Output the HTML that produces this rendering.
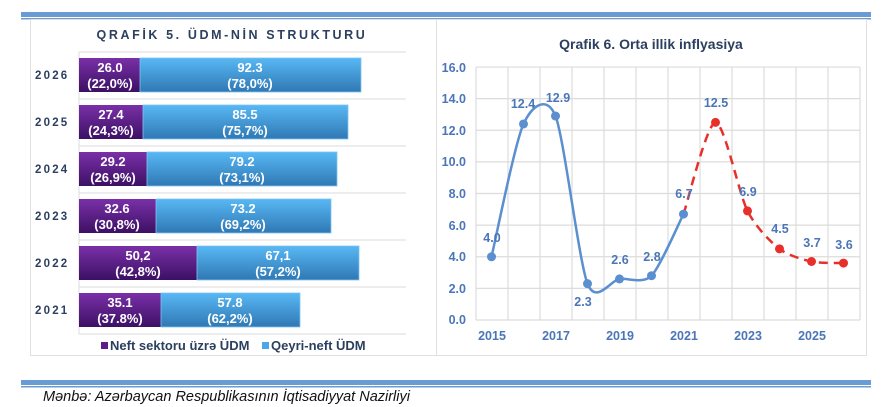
<!DOCTYPE html>
<html><head><meta charset="utf-8"><style>
body{margin:0;width:883px;height:407px;background:#fff;overflow:hidden;font-family:"Liberation Sans",sans-serif;}
svg{position:absolute;left:0;top:0}
</style></head><body>
<svg width="883" height="407" viewBox="0 0 883 407" xmlns="http://www.w3.org/2000/svg">
<defs>
<linearGradient id="pu" x1="0" y1="0" x2="0" y2="1"><stop offset="0" stop-color="#7a30a8"/><stop offset="1" stop-color="#3c1064"/></linearGradient>
<linearGradient id="bl" x1="0" y1="0" x2="0" y2="1"><stop offset="0" stop-color="#58b8f4"/><stop offset="1" stop-color="#2f78b4"/></linearGradient>
</defs>
<rect x="21" y="12" width="850" height="5" fill="#6a9bd2"/>
<rect x="21" y="18" width="850" height="1.5" fill="#6a9bd2"/>
<rect x="30.5" y="19.5" width="406" height="336" fill="#fff" stroke="#e0e0e0"/>
<text x="232" y="39" text-anchor="middle" font-size="12.5" font-weight="bold" fill="#2b3f5e" letter-spacing="2.6">QRAFİK 5. ÜDM-NİN STRUKTURU</text>
<g stroke="#e2e2e2" stroke-width="1.2">
<line x1="79" y1="52" x2="406" y2="52"/><line x1="79" y1="99" x2="406" y2="99"/><line x1="79" y1="146" x2="406" y2="146"/><line x1="79" y1="193" x2="406" y2="193"/><line x1="79" y1="240" x2="406" y2="240"/><line x1="79" y1="287" x2="406" y2="287"/><line x1="79" y1="334" x2="406" y2="334"/>
<line x1="79" y1="52" x2="79" y2="334"/>
</g>
<g font-size="11.5" font-weight="bold" fill="#2b3f5e" letter-spacing="2.2">
<text x="35" y="79">2026</text><text x="35" y="126">2025</text><text x="35" y="173">2024</text><text x="35" y="220">2023</text><text x="35" y="267">2022</text><text x="35" y="314">2021</text>
</g>
<g stroke="#7fc4f2" stroke-width="0.8">
<rect x="79" y="58" width="61" height="34" fill="url(#pu)" stroke="none"/><rect x="140" y="58" width="221" height="34" fill="url(#bl)"/>
<rect x="79" y="105" width="64" height="34" fill="url(#pu)" stroke="none"/><rect x="143" y="105" width="205" height="34" fill="url(#bl)"/>
<rect x="79" y="152" width="68" height="34" fill="url(#pu)" stroke="none"/><rect x="147" y="152" width="190" height="34" fill="url(#bl)"/>
<rect x="79" y="199" width="77" height="34" fill="url(#pu)" stroke="none"/><rect x="156" y="199" width="175" height="34" fill="url(#bl)"/>
<rect x="79" y="246" width="118" height="34" fill="url(#pu)" stroke="none"/><rect x="197" y="246" width="162" height="34" fill="url(#bl)"/>
<rect x="79" y="293" width="82" height="34" fill="url(#pu)" stroke="none"/><rect x="161" y="293" width="139" height="34" fill="url(#bl)"/>
</g>
<g font-size="13" font-weight="bold" fill="#fff" text-anchor="middle">
<text x="110" y="72">26.0</text><text x="110" y="88">(22,0%)</text><text x="250" y="72">92.3</text><text x="250" y="88">(78,0%)</text>
<text x="111" y="119">27.4</text><text x="111" y="135">(24,3%)</text><text x="245" y="119">85.5</text><text x="245" y="135">(75,7%)</text>
<text x="113" y="166">29.2</text><text x="113" y="182">(26,9%)</text><text x="242" y="166">79.2</text><text x="242" y="182">(73,1%)</text>
<text x="117" y="213">32.6</text><text x="117" y="229">(30,8%)</text><text x="243" y="213">73.2</text><text x="243" y="229">(69,2%)</text>
<text x="138" y="260">50,2</text><text x="138" y="276">(42,8%)</text><text x="278" y="260">67,1</text><text x="278" y="276">(57,2%)</text>
<text x="120" y="307">35.1</text><text x="120" y="323">(37.8%)</text><text x="230" y="307">57.8</text><text x="230" y="323">(62,2%)</text>
</g>
<rect x="101" y="342" width="7" height="7" fill="#5a2088"/>
<text x="110" y="350" font-size="13" font-weight="bold" fill="#2b3f5e">Neft sektoru üzrə ÜDM</text>
<rect x="262" y="342" width="7" height="7" fill="#49a8e8"/>
<text x="271" y="350" font-size="13" font-weight="bold" fill="#2b3f5e">Qeyri-neft ÜDM</text>
<rect x="436.5" y="19.5" width="430" height="336" fill="#fff" stroke="#e0e0e0"/>
<text x="651" y="49" text-anchor="middle" font-size="14" font-weight="bold" fill="#2b3f5e">Qrafik 6. Orta illik inflyasiya</text>
<g id="grid" stroke="#dcdcdc" stroke-width="1.2"></g>
<g font-size="12.5" font-weight="bold" fill="#4a76b8" text-anchor="end">
<text x="466" y="72">16.0</text><text x="466" y="103">14.0</text><text x="466" y="135">12.0</text><text x="466" y="166">10.0</text><text x="466" y="198">8.0</text><text x="466" y="230">6.0</text><text x="466" y="261">4.0</text><text x="466" y="293">2.0</text><text x="466" y="324">0.0</text>
</g>
<g font-size="12.5" font-weight="bold" fill="#4a76b8" text-anchor="middle">
<text x="492" y="340">2015</text><text x="556" y="340">2017</text><text x="620" y="340">2019</text><text x="684" y="340">2021</text><text x="748" y="340">2023</text><text x="812" y="340">2025</text>
</g>
<path id="blue" fill="none" stroke="#5b8fd0" stroke-width="2.5"/>
<path id="red" fill="none" stroke="#e8302a" stroke-width="2.5" stroke-dasharray="9,6"/>
<g id="dots"></g>
<g font-size="12.5" font-weight="bold" fill="#4a76b8" text-anchor="middle">
<text x="492" y="242">4.0</text><text x="523" y="108">12.4</text><text x="558" y="102">12.9</text><text x="583" y="306">2.3</text>
<text x="620" y="264">2.6</text><text x="652" y="261">2.8</text><text x="684" y="198">6.7</text><text x="716" y="107">12.5</text>
<text x="748" y="196">6.9</text><text x="780" y="233">4.5</text><text x="812" y="247">3.7</text><text x="844" y="249">3.6</text>
</g>
<rect x="21" y="380" width="850" height="5" fill="#6a9bd2"/>
<rect x="21" y="386" width="850" height="1.5" fill="#6a9bd2"/>
<text x="43" y="401" font-size="14.5" font-style="italic" fill="#111">Mənbə: Azərbaycan Respublikasının İqtisadiyyat Nazirliyi</text>
</svg>
<script>
function Y(v){return 320-15.81*v;}
function X(i){return 491.5+32*i;}
var g=document.getElementById('grid'),s='';
for(var k=0;k<=8;k++){var y=Y(2*k);s+='<line x1="476" y1="'+y+'" x2="860" y2="'+y+'"/>';}
[476,508,540,572,604,636,668,700,732,764,796,828,860].forEach(function(x){s+='<line x1="'+x+'" y1="67" x2="'+x+'" y2="320"/>';});
g.innerHTML=s;
function path(p){var t=7.5,d='M'+p[0][0]+','+p[0][1];
for(var i=0;i<p.length-1;i++){var p0=p[i-1]||p[i],p1=p[i],p2=p[i+1],p3=p[i+2]||p2;
var c1=[p1[0]+(p2[0]-p0[0])/t,p1[1]+(p2[1]-p0[1])/t],c2=[p2[0]-(p3[0]-p1[0])/t,p2[1]-(p3[1]-p1[1])/t];
d+=' C'+c1+' '+c2+' '+p2;}return d;}
var b=[4.0,12.4,12.9,2.3,2.6,2.8,6.7].map(function(v,i){return [X(i),Y(v)];});
var r=[6.7,12.5,6.9,4.5,3.7,3.6].map(function(v,i){return [X(i+6),Y(v)];});
document.getElementById('blue').setAttribute('d',path(b));
document.getElementById('red').setAttribute('d',path(r));
var dh='';b.forEach(function(p){dh+='<circle cx="'+p[0]+'" cy="'+p[1]+'" r="4.5" fill="#5b8fd0"/>';});
r.slice(1).forEach(function(p){dh+='<circle cx="'+p[0]+'" cy="'+p[1]+'" r="4.5" fill="#e8302a"/>';});
document.getElementById('dots').innerHTML=dh;
</script>
</body></html>
